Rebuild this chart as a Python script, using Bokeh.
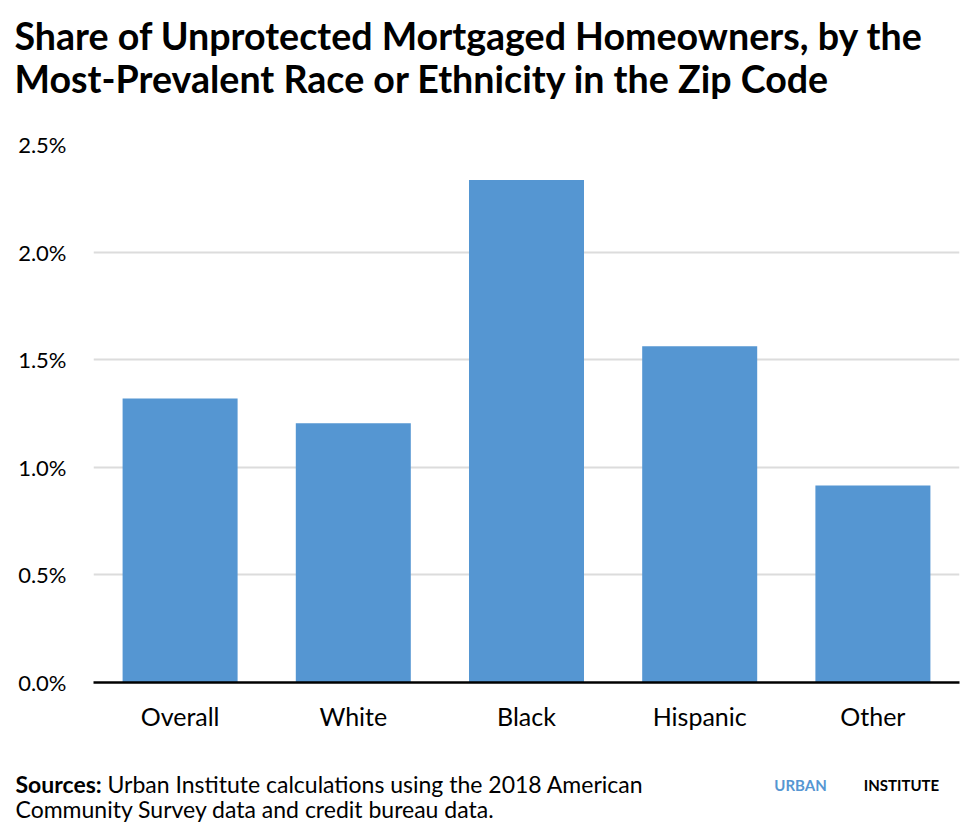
from bokeh.plotting import figure
from bokeh.layouts import column
from bokeh.models import FactorRange, Range1d, FixedTicker, PrintfTickFormatter
from bokeh.core.properties import value
from bokeh.embed import file_html
from bokeh.resources import INLINE

categories = ["Overall", "White", "Black", "Hispanic", "Other"]
values = [1.32, 1.205, 2.335, 1.562, 0.915]
y_ticks = [0.0, 0.5, 1.0, 1.5, 2.0, 2.5]

title_lines = ["Share of Unprotected Mortgaged Homeowners, by the",
               "Most-Prevalent Race or Ethnicity in the Zip Code"]
source_label = "Sources:"
source_line1 = "Urban Institute calculations using the 2018 American"
source_line2 = "Community Survey data and credit bureau data."
logo_words = ["URBAN", "INSTITUTE"]

BAR = "#5596D2"
FONT = "Lato"
W = 960


def blank(height):
    f = figure(width=W, height=height, x_range=Range1d(0, W), y_range=Range1d(height, 0),
               output_backend="svg", toolbar_location=None, min_border=0,
               x_axis_location=None, y_axis_location=None)
    f.outline_line_color = None
    f.grid.visible = False
    return f


# ---- header ----
HEAD_H = 130
head = blank(HEAD_H)
head.text(x=[14, 14], y=[35, 78], text=title_lines, text_font=value(FONT),
          text_font_style="bold", text_font_size="37.6px", text_color="#000000",
          text_baseline="alphabetic", text_align="left")

# ---- main chart ----
TOP_PAD = 14
BOTTOM = 68
MAIN_H = 682 - HEAD_H + BOTTOM
frame_h = 682 - HEAD_H - TOP_PAD
y_end = 2.5 * (frame_h / (682 - 144))

p = figure(x_range=FactorRange(*categories, range_padding=0),
           y_range=Range1d(0, y_end),
           width=W, height=MAIN_H, output_backend="svg", toolbar_location=None,
           min_border_left=93, min_border_right=1, min_border_top=TOP_PAD,
           min_border_bottom=BOTTOM)
p.outline_line_color = None

p.vbar(x=categories, top=values, width=0.664, color=BAR, line_color=None)

p.xgrid.grid_line_color = None
p.ygrid.grid_line_color = "#dcdcdc"
p.ygrid.grid_line_width = 2
p.ygrid.ticker = FixedTicker(ticks=y_ticks)

p.yaxis.ticker = FixedTicker(ticks=y_ticks)
p.yaxis.formatter = PrintfTickFormatter(format="%.1f%%")
p.yaxis.axis_line_color = None
p.yaxis.major_tick_line_color = None
p.yaxis.minor_tick_line_color = None
p.yaxis.major_label_standoff = 21
p.yaxis.major_label_text_font = FONT
p.yaxis.major_label_text_font_size = "22px"
p.yaxis.major_label_text_color = "#000000"

p.xaxis.axis_line_color = "#000000"
p.xaxis.axis_line_width = 2.5
p.xaxis.major_tick_line_color = None
p.xaxis.minor_tick_line_color = None
p.xaxis.major_label_standoff = 12
p.xaxis.major_label_text_font = FONT
p.xaxis.major_label_text_font_size = "25px"
p.xaxis.major_label_text_color = "#000000"

# ---- footer ----
FOOT_TOP = HEAD_H + MAIN_H
FOOT_H = 826 - FOOT_TOP
foot = blank(FOOT_H)
b1 = 783 - FOOT_TOP
b2 = 808 - FOOT_TOP
foot.text(x=[15], y=[b1], text=[source_label], text_font=value(FONT), text_font_style="bold",
          text_font_size="23px", text_color="#000000", text_baseline="alphabetic")
foot.text(x=[107, 15], y=[b1, b2], text=[source_line1, source_line2], text_font=value(FONT),
          text_font_size="23px", text_color="#000000", text_baseline="alphabetic")
foot.text(x=[800], y=[b1 + 1], text=[logo_words[0]], text_font=value(FONT), text_font_style="bold",
          text_font_size="15px", text_color=BAR, text_baseline="alphabetic", text_align="center")
foot.text(x=[901], y=[b1 + 1], text=[logo_words[1]], text_font=value(FONT), text_font_style="bold",
          text_font_size="15px", text_color="#000000", text_baseline="alphabetic", text_align="center")

layout = column(column(head), column(p), column(foot), spacing=0)
open("out.html", "w").write(file_html(layout, INLINE))
